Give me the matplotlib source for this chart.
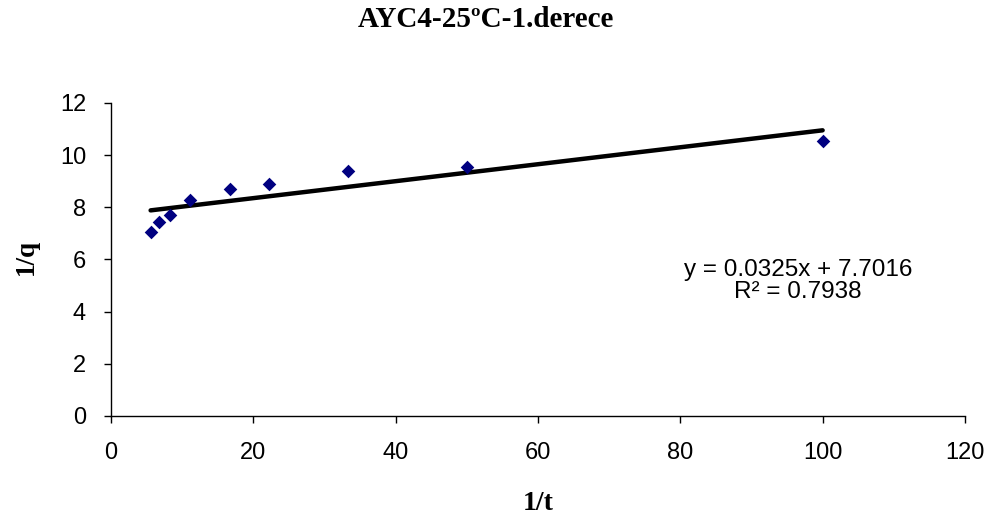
import matplotlib
matplotlib.use("Agg")
import matplotlib.pyplot as plt
import numpy as np

# Data
x_vals = [5.56, 6.67, 8.33, 11.11, 16.67, 22.22, 33.33, 50.0, 100.0]
y_vals = [7.04, 7.44, 7.72, 8.28, 8.72, 8.91, 9.39, 9.55, 10.53]
slope = 0.0325
intercept = 7.7016
r2 = 0.7938
title = "AYC4-25ºC-1.derece"
x_label = "1/t"
y_label = "1/q"
x_ticks = [0, 20, 40, 60, 80, 100, 120]
y_ticks = [0, 2, 4, 6, 8, 10, 12]

fig = plt.figure(figsize=(9.95, 5.2), dpi=100)
ax = fig.add_axes([0.1116, 0.2, 0.8582, 0.602])

xl = np.array([min(x_vals), max(x_vals)])
ax.plot(xl, slope * xl + intercept, color="black", lw=3.2, solid_capstyle="round", zorder=2)
ax.scatter(x_vals, y_vals, marker="D", s=48, color="#000080", zorder=3, linewidths=0)

ax.set_xlim(0, 120)
ax.set_ylim(0, 12)
ax.set_xticks(x_ticks)
ax.set_yticks(y_ticks)
for s in ["top", "right"]:
    ax.spines[s].set_visible(False)
for s in ["left", "bottom"]:
    ax.spines[s].set_linewidth(1.0)
ax.tick_params(direction="out", length=5, width=1, labelsize=17)
ax.tick_params(axis="x", pad=14)
ax.tick_params(axis="y", pad=13)
for lab in ax.get_xticklabels() + ax.get_yticklabels():
    lab.set_family("Liberation Sans")

ax.text(96.5, 5.18, f"y = {slope}x + {intercept}\nR² = {r2}", ha="center", va="center",
        fontsize=17.5, family="Liberation Sans", linespacing=1.0)

fig.text(0.488, 0.962, title, ha="center", va="center", fontsize=21, fontweight="bold",
         family="Liberation Serif")
fig.text(0.541, 0.032, x_label, ha="center", va="center", fontsize=20, fontweight="bold",
         family="Liberation Serif")
fig.text(0.027, 0.505, y_label, ha="center", va="center", rotation=90, fontsize=19.5,
         fontweight="bold", family="Liberation Serif")

fig.savefig("out.png", dpi=100)
